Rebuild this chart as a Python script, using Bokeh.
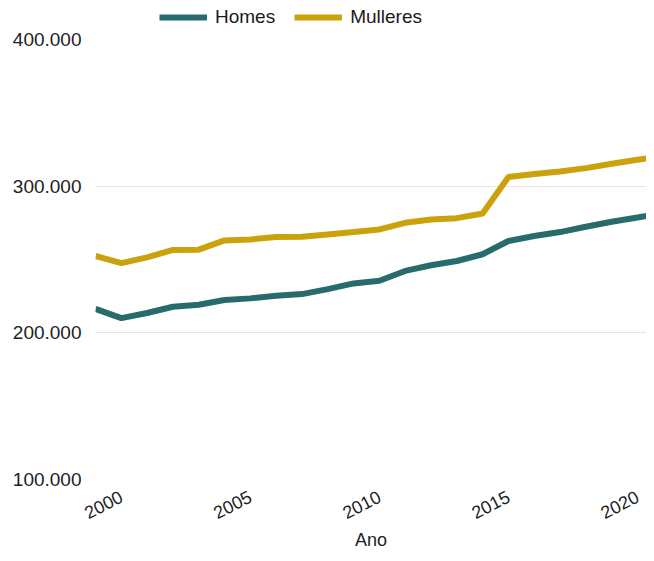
import math
from bokeh.plotting import figure
from bokeh.models import ColumnDataSource, FixedTicker, Legend, LegendItem, Range1d
from bokeh.embed import file_html
from bokeh.resources import INLINE

# ---- data ----
years = [1999, 2000, 2001, 2002, 2003, 2004, 2005, 2006, 2007, 2008, 2009, 2010,
         2011, 2012, 2013, 2014, 2015, 2016, 2017, 2018, 2019, 2020, 2021]
homes = [216300, 210000, 213500, 217800, 219200, 222400, 223500, 225300, 226400, 229800,
         233700, 235500, 242200, 246100, 249000, 253600, 262600, 266000, 268700, 272300,
         275700, 278600, 281800]
mulleres = [252400, 247500, 251500, 256500, 256700, 263000, 263700, 265300, 265500, 267100,
            268700, 270500, 275000, 277300, 278200, 281400, 306200, 308300, 310000, 312300,
            315300, 318000, 320700]
series_names = ["Homes", "Mulleres"]
y_ticks = [100000, 200000, 300000, 400000]
y_tick_labels = ["100.000", "200.000", "300.000", "400.000"]
grid_ticks = [200000, 300000]
x_ticks = [2000, 2005, 2010, 2015, 2020]
x_axis_label = "Ano"

TEAL = "#276b6d"
GOLD = "#cba20b"
FONT = "Liberation Sans"

source = ColumnDataSource(data=dict(year=years, homes=homes, mulleres=mulleres))

# frame spans the full height above the x axis; the y range is padded on top
# so that the legend sits inside the frame, above the 400.000 tick
p = figure(width=646, height=553, output_backend="svg", toolbar_location=None,
           x_range=Range1d(1999, 2020.35), y_range=Range1d(100000, 426600),
           min_border_left=95, min_border_right=0, min_border_top=0, min_border_bottom=71)
p.outline_line_color = None
p.background_fill_color = "white"
p.border_fill_color = "white"

r1 = p.line("year", "homes", source=source, line_color=TEAL, line_width=6)
r2 = p.line("year", "mulleres", source=source, line_color=GOLD, line_width=6)

# y axis
p.yaxis.ticker = FixedTicker(ticks=y_ticks)
p.yaxis.major_label_overrides = dict(zip(y_ticks, y_tick_labels))
p.yaxis.axis_line_color = None
p.yaxis.major_tick_line_color = None
p.yaxis.minor_tick_line_color = None
p.yaxis.major_label_text_font = FONT
p.yaxis.major_label_text_font_size = "19px"
p.yaxis.major_label_text_color = "#222222"
p.yaxis.major_label_standoff = 8

# x axis
p.xaxis.ticker = FixedTicker(ticks=x_ticks)
p.xaxis.axis_line_color = None
p.xaxis.major_tick_line_color = None
p.xaxis.minor_tick_line_color = None
p.xaxis.major_label_text_font = FONT
p.xaxis.major_label_text_font_size = "18px"
p.xaxis.major_label_text_color = "#222222"
p.xaxis.major_label_orientation = 0.47
p.xaxis.major_label_standoff = 10
p.xaxis.axis_label = x_axis_label
p.xaxis.axis_label_text_font = FONT
p.xaxis.axis_label_text_font_size = "18px"
p.xaxis.axis_label_text_font_style = "normal"
p.xaxis.axis_label_text_color = "#222222"
p.xaxis.axis_label_standoff = 2

# grid
p.xgrid.grid_line_color = None
p.ygrid.ticker = FixedTicker(ticks=grid_ticks)
p.ygrid.grid_line_color = "#e6e6e6"
p.ygrid.grid_line_width = 1

legend = Legend(items=[LegendItem(label=series_names[0], renderers=[r1]),
                       LegendItem(label=series_names[1], renderers=[r2])],
                orientation="horizontal", location=(64, 451),
                glyph_width=48, glyph_height=20, label_standoff=8, spacing=19,
                padding=0, margin=0, border_line_color=None, background_fill_alpha=0,
                label_text_font=FONT, label_text_font_size="19px",
                label_text_color="#1a1a1a")
p.add_layout(legend, "center")

open("out.html", "w").write(file_html(p, INLINE))
